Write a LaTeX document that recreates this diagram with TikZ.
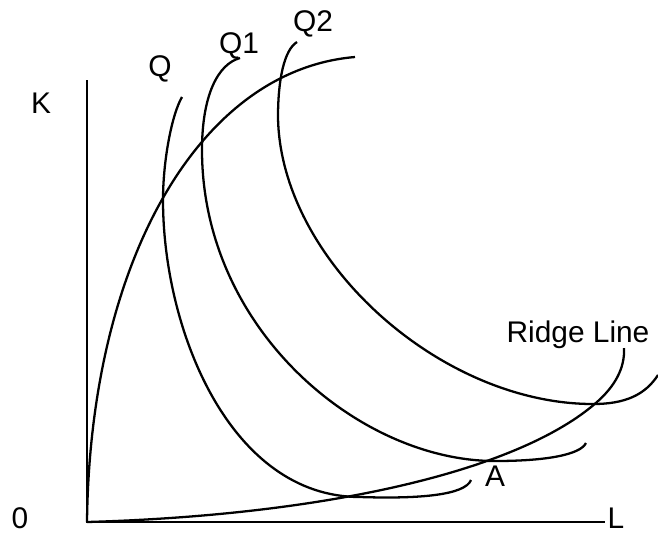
\documentclass[tikz,border=0pt]{standalone}
\usepackage{fontspec}
\setmainfont{Liberation Sans}

\begin{document}
\begin{tikzpicture}[x=0.02cm, y=-0.02cm, line width=1.3pt,
    lbl/.style={font=\fontsize{17}{19}\selectfont, inner sep=0pt, anchor=base}]
    \useasboundingbox (0,0) rectangle (658,532);

    % axes
    \coordinate (O) at (87,522);
    \coordinate (ktop) at (87,80);
    \coordinate (lend) at (605,522);
    \draw (ktop) -- (O) -- (lend);

    \node [lbl] (k) at (41,113) {K};
    \node [lbl] (zero) at (20,528) {0};
    \node [lbl] (l) at (616,528) {L};

    % isoquants
    \draw (182,97) .. controls (172,114) and (163,160) .. (163,200)
        .. controls (163,330) and (230,497) .. (360,497)
        .. controls (420,499) and (465,495) .. (471,480);
    \draw (240,58) .. controls (218,64) and (202,95) .. (202,150)
        .. controls (202,330) and (360,461) .. (495,461)
        .. controls (545,461) and (580,455) .. (586,443);
    \draw (297,42) .. controls (284,50) and (278,80) .. (278,117)
        .. controls (280,260) and (440,404) .. (593,404)
        .. controls (625,404) and (645,395) .. (658,375);

    \node [lbl] (q) at (160,76) {Q};
    \node [lbl] (q1) at (239,53) {Q1};
    \node [lbl] (q2) at (313,31) {Q2};

    % ridge lines
    \draw (O) .. controls (90,260) and (200,70) .. (355,57);
    \draw (O) .. controls (330,515) and (520,470) .. (597,402)
        .. controls (615,386) and (625,368) .. (624,348);

    \node [lbl] (ridge) at (578,342) {Ridge Line};
    \node [lbl] (a) at (495,486) {A};
\end{tikzpicture}
\end{document}
